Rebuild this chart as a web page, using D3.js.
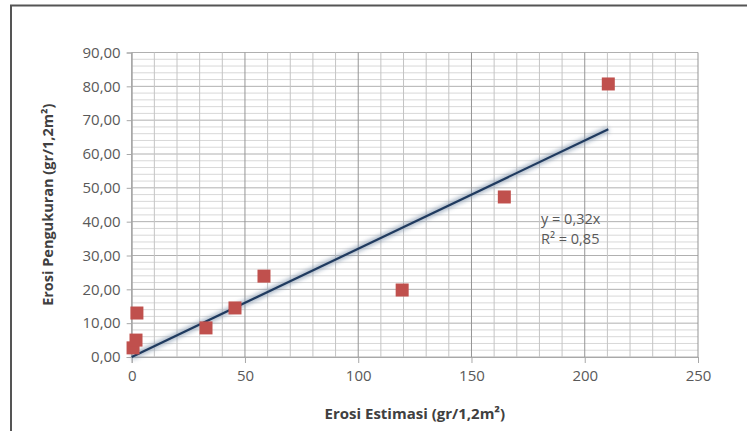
<!DOCTYPE html>
<html>
<head>
<meta charset="utf-8">
<script src="https://cdn.jsdelivr.net/npm/d3@7"></script>
<style>
  body { margin: 0; background: #fff; }
  text { font-family: "Open Sans", "DejaVu Sans", sans-serif; }
</style>
</head>
<body>
<div id="chart"></div>
<script>
// observed points (estimated vs measured erosion)
const estimasi = [0.6, 1.9, 2.3, 32.8, 45.6, 58.4, 119.4, 164.5, 210.4];
const pengukuran = [2.7, 5.0, 13.0, 8.6, 14.5, 23.9, 19.8, 47.3, 80.7];
const slope = 0.32;
const xTicks = [0, 50, 100, 150, 200, 250];
const yTicks = [0, 10, 20, 30, 40, 50, 60, 70, 80, 90];
const eqLabels = ["y = 0,32x", "R² = 0,85"];

const W = 747, H = 431;
const m = {left: 131.7, right: 49, top: 52.5, bottom: 74};

const svg = d3.select("#chart").append("svg")
  .attr("width", W).attr("height", H);

// outer frame
svg.append("path")
  .attr("d", `M11,${H} L11,5.5 L${W},5.5`)
  .attr("fill", "none").attr("stroke", "#555").attr("stroke-width", 2);

const x = d3.scaleLinear().domain([0, 250]).range([m.left, W - m.right]);
const y = d3.scaleLinear().domain([0, 90]).range([H - m.bottom, m.top]);

const grid = svg.append("g");
// minor horizontal every 2
grid.selectAll(".hmin").data(d3.range(0, 91, 2))
  .join("line")
  .attr("x1", x(0)).attr("x2", x(250))
  .attr("y1", d => y(d)).attr("y2", d => y(d))
  .attr("stroke", d => d % 10 === 0 ? "#b0b0b0" : "#d8d8d8")
  .attr("stroke-width", 1);
// vertical every 10
grid.selectAll(".vmin").data(d3.range(0, 251, 10))
  .join("line")
  .attr("y1", y(0)).attr("y2", y(90))
  .attr("x1", d => x(d)).attr("x2", d => x(d))
  .attr("stroke", d => d % 50 === 0 ? "#959595" : "#c4c4c4")
  .attr("stroke-width", 1);

// axes
const xAxis = svg.append("g")
  .attr("transform", `translate(0,${y(0)})`)
  .call(d3.axisBottom(x).tickValues(xTicks).tickSize(6).tickPadding(7));
const yAxis = svg.append("g")
  .attr("transform", `translate(${x(0)},0)`)
  .call(d3.axisLeft(y).tickValues(yTicks).tickSize(5).tickPadding(6)
    .tickFormat(d => d3.format(".2f")(d).replace(".", ",")));
[xAxis, yAxis].forEach(a => {
  a.select(".domain").attr("stroke", "#a8a8a8");
  a.selectAll(".tick line").attr("stroke", "#a8a8a8");
  a.selectAll("text").attr("fill", "#595959").attr("font-size", 15)
    .attr("font-family", "'Open Sans', sans-serif");
});

// trendline with soft glow
const defs = svg.append("defs");
defs.append("filter").attr("id", "glow")
  .attr("x", "-10%").attr("y", "-10%").attr("width", "120%").attr("height", "120%")
  .append("feGaussianBlur").attr("stdDeviation", 2.2);
const xMax = d3.max(estimasi);
svg.append("line")
  .attr("x1", x(0)).attr("y1", y(0)).attr("x2", x(xMax)).attr("y2", y(slope * xMax))
  .attr("stroke", "#8fa0b5").attr("stroke-width", 6).attr("opacity", 0.75)
  .attr("filter", "url(#glow)");
svg.append("line")
  .attr("x1", x(0)).attr("y1", y(0)).attr("x2", x(xMax)).attr("y2", y(slope * xMax))
  .attr("stroke", "#1f3a5f").attr("stroke-width", 2.2);

// markers
const s = 13;
svg.selectAll(".pt").data(estimasi)
  .join("rect")
  .attr("x", (d) => x(d) - s / 2)
  .attr("y", (d, i) => y(pengukuran[i]) - s / 2)
  .attr("width", s).attr("height", s)
  .attr("fill", "#c0504d");

// equation
svg.selectAll(".eq").data(eqLabels)
  .join("text")
  .attr("x", 541).attr("y", (d, i) => 224 + i * 20)
  .attr("fill", "#595959").attr("font-size", 14.5)
  .text(d => d);

// axis titles
svg.append("text")
  .attr("x", (x(0) + x(250)) / 2).attr("y", 419)
  .attr("text-anchor", "middle").attr("font-weight", "bold")
  .attr("font-size", 15).attr("fill", "#404040")
  .text("Erosi Estimasi (gr/1,2m²)");
svg.append("text")
  .attr("transform", `translate(53,${(y(0) + y(90)) / 2}) rotate(-90)`)
  .attr("text-anchor", "middle").attr("font-weight", "bold")
  .attr("font-size", 14.5).attr("fill", "#404040")
  .text("Erosi Pengukuran (gr/1,2m²)");
</script>
</body>
</html>
